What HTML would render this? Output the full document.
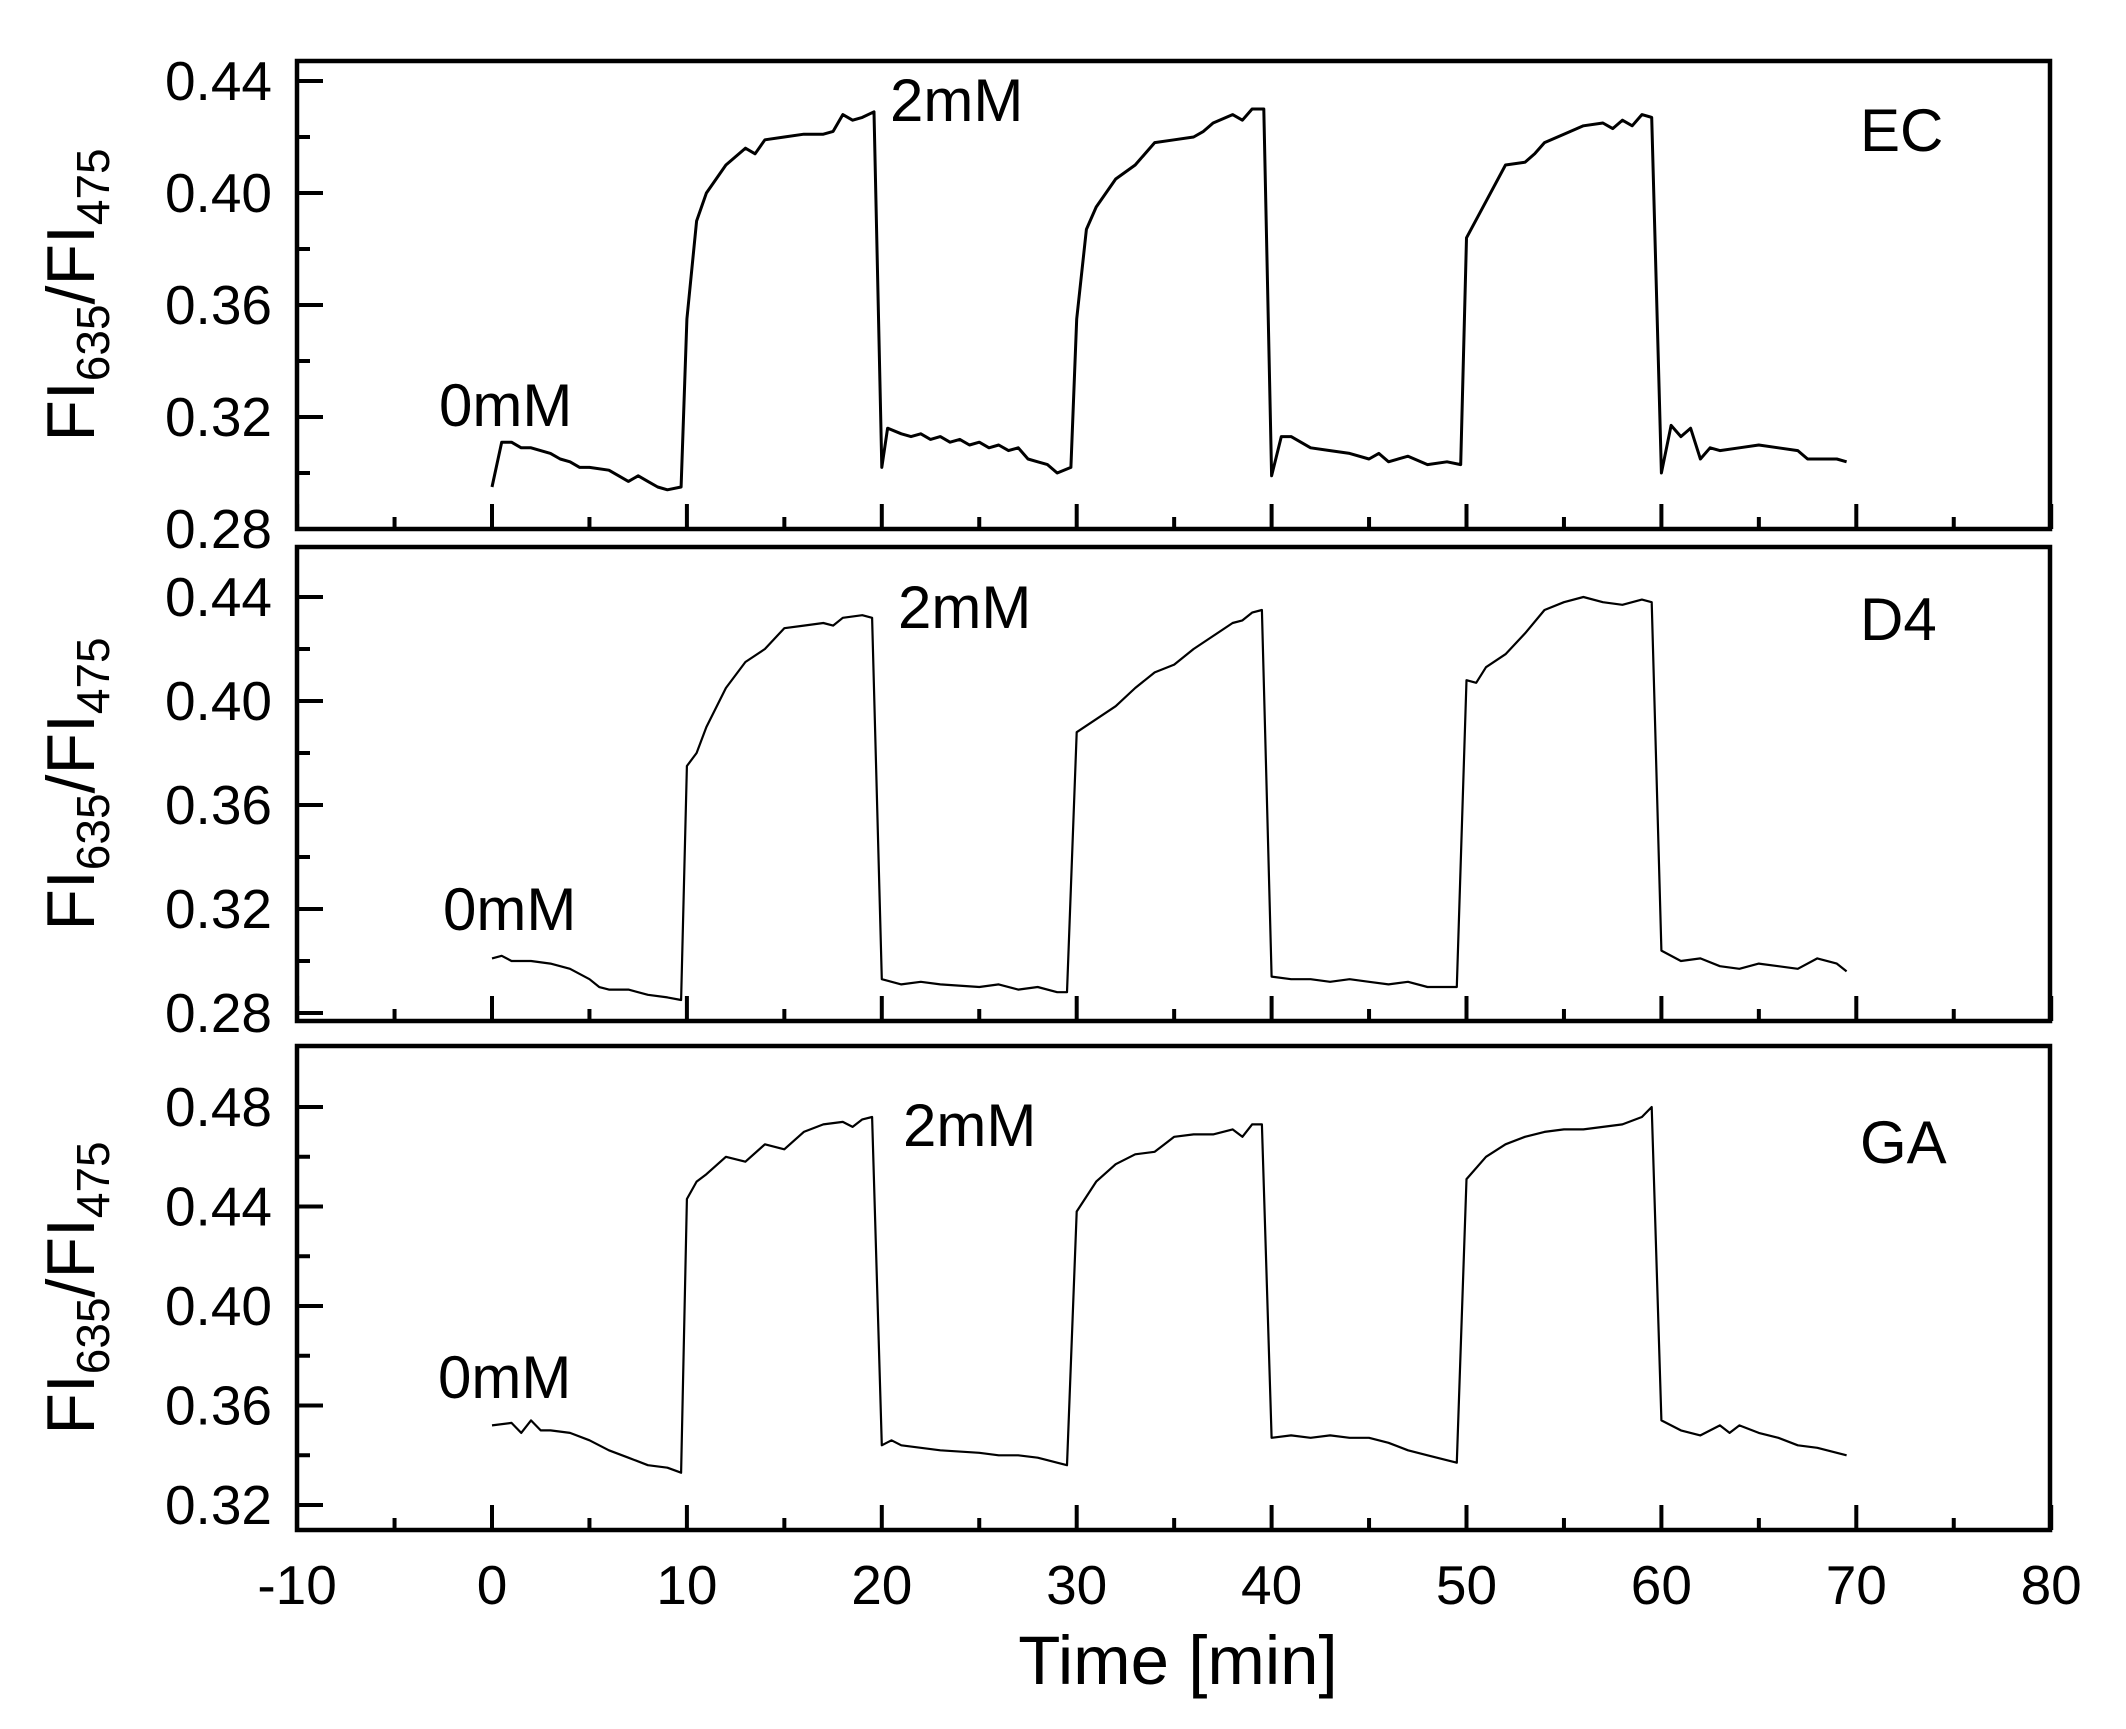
<!DOCTYPE html>
<html><head><meta charset="utf-8"><style>
html,body{margin:0;padding:0;background:#fff;}
svg{display:block;font-family:"Liberation Sans",Arial,sans-serif;}
</style></head><body>
<svg id="s" width="2126" height="1729" viewBox="0 0 2126 1729" xmlns="http://www.w3.org/2000/svg">
<g id="g"></g>
<text x="1860" y="151" font-size="60">EC</text>
<text x="1860" y="640" font-size="60">D4</text>
<text x="1860" y="1163" font-size="60">GA</text>
<text x="890" y="121" font-size="60">2mM</text>
<text x="898" y="628" font-size="60">2mM</text>
<text x="903" y="1146" font-size="60">2mM</text>
<text x="439" y="426" font-size="60">0mM</text>
<text x="443" y="930" font-size="60">0mM</text>
<text x="438" y="1398" font-size="60">0mM</text>
<text x="1178" y="1684" font-size="69" text-anchor="middle">Time [min]</text>
</svg>
<script>
var NS="http://www.w3.org/2000/svg",g=document.getElementById('g');
function el(t,a,txt){var e=document.createElementNS(NS,t);for(var k in a)e.setAttribute(k,a[k]);if(txt!==undefined)e.textContent=txt;g.appendChild(e);return e;}
var X0=492,XS=19.49;function X(t){return X0+t*XS;}
var L=297,R=2050;
var panels=[
{top:61,bot:529,ref:0.28,refY:529,k:2800,maj:[0.28,0.32,0.36,0.40,0.44],min:[0.30,0.34,0.38,0.42],sw:3,
d:[[0,.295],[.5,.311],[1,.311],[1.5,.309],[2,.309],[3,.307],[3.5,.305],[4,.304],[4.5,.302],[5,.302],[6,.301],[6.5,.299],[7,.297],[7.5,.299],[8,.297],[8.5,.295],[9,.294],[9.7,.295],[10,.355],[10.5,.39],[11,.40],[12,.41],[13,.416],[13.5,.414],[14,.419],[15,.42],[16,.421],[17,.421],[17.5,.422],[18,.428],[18.5,.426],[19,.427],[19.6,.429],[20,.302],[20.3,.316],[21,.314],[21.5,.313],[22,.314],[22.5,.312],[23,.313],[23.5,.311],[24,.312],[24.5,.310],[25,.311],[25.5,.309],[26,.310],[26.5,.308],[27,.309],[27.5,.305],[28,.304],[28.5,.303],[29,.300],[29.7,.302],[30,.355],[30.5,.387],[31,.395],[32,.405],[33,.41],[34,.418],[35,.419],[36,.42],[36.5,.422],[37,.425],[38,.428],[38.5,.426],[39,.43],[39.6,.43],[40,.299],[40.5,.313],[41,.313],[42,.309],[43,.308],[44,.307],[45,.305],[45.5,.307],[46,.304],[47,.306],[48,.303],[49,.304],[49.7,.303],[50,.384],[51,.397],[52,.41],[53,.411],[53.5,.414],[54,.418],[55,.421],[56,.424],[57,.425],[57.5,.423],[58,.426],[58.5,.424],[59,.428],[59.5,.427],[60,.300],[60.5,.317],[61,.313],[61.5,.316],[62,.305],[62.5,.309],[63,.308],[64,.309],[65,.310],[66,.309],[67,.308],[67.5,.305],[68,.305],[69,.305],[69.5,.304]]},
{top:547,bot:1021,ref:0.28,refY:1013,k:2600,maj:[0.28,0.32,0.36,0.40,0.44],min:[0.30,0.34,0.38,0.42],sw:2.2,
d:[[0,.301],[.5,.302],[1,.300],[2,.300],[3,.299],[4,.297],[5,.293],[5.5,.290],[6,.289],[7,.289],[8,.287],[9,.286],[9.7,.285],[10,.375],[10.5,.38],[11,.39],[12,.405],[13,.415],[14,.42],[15,.428],[16,.429],[17,.430],[17.5,.429],[18,.432],[19,.433],[19.5,.432],[20,.293],[21,.291],[22,.292],[23,.291],[25,.290],[26,.291],[27,.289],[28,.290],[29,.288],[29.5,.288],[30,.388],[31,.393],[32,.398],[33,.405],[34,.411],[35,.414],[36,.42],[37,.425],[38,.43],[38.5,.431],[39,.434],[39.5,.435],[40,.294],[41,.293],[42,.293],[43,.292],[44,.293],[45,.292],[46,.291],[47,.292],[48,.290],[49.5,.29],[50,.408],[50.5,.407],[51,.413],[52,.418],[53,.426],[54,.435],[55,.438],[56,.44],[57,.438],[58,.437],[59,.439],[59.5,.438],[60,.304],[61,.300],[62,.301],[63,.298],[64,.297],[65,.299],[66,.298],[67,.297],[68,.301],[69,.299],[69.5,.296]]},
{top:1046,bot:1530,ref:0.32,refY:1505,k:2487.5,maj:[0.32,0.36,0.40,0.44,0.48],min:[0.34,0.38,0.42,0.46],sw:2.2,
d:[[0,.352],[1,.353],[1.5,.349],[2,.354],[2.5,.350],[3,.350],[4,.349],[5,.346],[6,.342],[7,.339],[8,.336],[9,.335],[9.7,.333],[10,.443],[10.5,.450],[11,.453],[12,.460],[13,.458],[14,.465],[15,.463],[16,.470],[17,.473],[18,.474],[18.5,.472],[19,.475],[19.5,.476],[20,.344],[20.5,.346],[21,.344],[23,.342],[25,.341],[26,.340],[27,.340],[28,.339],[28.5,.338],[29,.337],[29.5,.336],[30,.438],[31,.450],[32,.457],[33,.461],[34,.462],[35,.468],[36,.469],[37,.469],[38,.471],[38.5,.468],[39,.473],[39.5,.473],[40,.347],[41,.348],[42,.347],[43,.348],[44,.347],[45,.347],[46,.345],[47,.342],[48,.340],[49.5,.337],[50,.451],[51,.460],[52,.465],[53,.468],[54,.470],[55,.471],[56,.471],[57,.472],[58,.473],[59,.476],[59.5,.480],[60,.354],[61,.350],[62,.348],[63,.352],[63.5,.349],[64,.352],[65,.349],[66,.347],[67,.344],[68,.343],[69,.341],[69.5,.340]]}
];
panels.forEach(function(p){
 function Y(v){return p.refY-(v-p.ref)*p.k;}
 el('rect',{x:L,y:p.top,width:R-L,height:p.bot-p.top,fill:'none',stroke:'#000','stroke-width':4.5});
 p.maj.forEach(function(v){var y=Y(v);el('line',{x1:L,y1:y,x2:L+26,y2:y,stroke:'#000','stroke-width':4});
  el('text',{x:272,y:y+19,'font-size':55,'text-anchor':'end'},v.toFixed(2));});
 p.min.forEach(function(v){var y=Y(v);el('line',{x1:L,y1:y,x2:L+13,y2:y,stroke:'#000','stroke-width':4});});
 for(var t=-10;t<=80;t+=5){var x=X(t),len=(t%10===0)?25:12;el('line',{x1:x,y1:p.bot,x2:x,y2:p.bot-len,stroke:'#000','stroke-width':4});}
 el('polyline',{points:p.d.map(function(q){return X(q[0]).toFixed(1)+','+Y(q[1]).toFixed(1);}).join(' '),fill:'none',stroke:'#000','stroke-width':p.sw,'stroke-linejoin':'round'});
 var cy=(p.top+p.bot)/2;
 var t=el('text',{x:0,y:0,'font-size':68,transform:'translate(94,'+cy+') rotate(-90)','text-anchor':'middle'});
 t.innerHTML='FI<tspan font-size="46" dy="15">635</tspan><tspan dy="-15">/FI</tspan><tspan font-size="46" dy="15">475</tspan>';
});
for(var t=-10;t<=80;t+=10){el('text',{x:X(t),y:1604,'font-size':55,'text-anchor':'middle'},String(t));}
</script>
</body></html>
